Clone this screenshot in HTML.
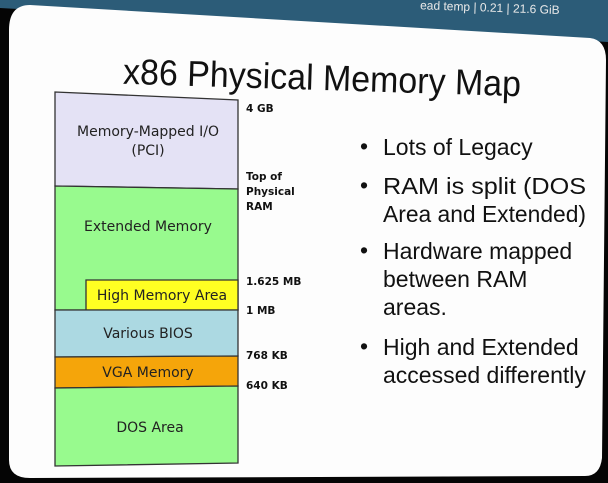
<!DOCTYPE html>
<html><head><meta charset="utf-8"><style>
html,body{margin:0;padding:0;width:608px;height:483px;overflow:hidden;background:#000}
svg{position:absolute;left:0;top:0}
text{font-family:"Liberation Sans","DejaVu Sans",sans-serif}
.d{font-family:"DejaVu Sans","Liberation Sans",sans-serif;font-size:14px;fill:#222}
.l{font-family:"DejaVu Sans","Liberation Sans",sans-serif;font-size:10.5px;font-weight:bold;fill:#111}
.b{font-size:23px;fill:#111}
</style></head><body>
<svg width="608" height="483" viewBox="0 0 608 483">
<rect width="608" height="483" fill="#050505"/>
<polygon points="0,0 608,0 608,42 0,8" fill="#2c5c78"/>
<text x="420" y="12" font-size="12" fill="#e8e8e8" font-family="DejaVu Sans Mono,monospace" transform="rotate(2 500 10)">ead temp | 0.21 | 21.6 GiB</text>
<path d="M30,5 L590,38 Q606,40 606,60 L602,458 Q600,476 585,476 L30,478 Q9,478 9,460 L9,30 Q9,5 30,5 Z" fill="#fdfdfd"/>
<text x="123" y="90" font-size="36" textLength="398" lengthAdjust="spacingAndGlyphs" fill="#111" transform="rotate(1.8 322 80)">x86 Physical Memory Map</text>
<polygon points="55,92 238,100 238,189 55,186" fill="#e4e2f5" stroke="#333" stroke-width="1.3"/>
<polygon points="55,186 238,189 238,310 55,310" fill="#98fa8e" stroke="#333" stroke-width="1.3"/>
<polygon points="86,280 238,280 238,310 86,310" fill="#ffff22" stroke="#333" stroke-width="1.3"/>
<polygon points="55,310 238,310 238,356 55,357" fill="#acd9e2" stroke="#333" stroke-width="1.3"/>
<polygon points="55,357 238,356 238,386 55,388" fill="#f5a50a" stroke="#333" stroke-width="1.3"/>
<polygon points="55,388 238,386 238,463 55,466" fill="#98fa8e" stroke="#333" stroke-width="1.3"/>
<text class="d" x="148" y="136" text-anchor="middle">Memory-Mapped I/O</text>
<text class="d" x="148" y="155" text-anchor="middle">(PCI)</text>
<text class="d" x="148" y="231" text-anchor="middle">Extended Memory</text>
<text class="d" x="162" y="300" text-anchor="middle">High Memory Area</text>
<text class="d" x="148" y="338" text-anchor="middle">Various BIOS</text>
<text class="d" x="148" y="377" text-anchor="middle">VGA Memory</text>
<text class="d" x="150" y="432" text-anchor="middle">DOS Area</text>
<text class="l" x="246" y="112">4 GB</text>
<text class="l" x="246" y="180">Top of</text>
<text class="l" x="246" y="195">Physical</text>
<text class="l" x="246" y="210">RAM</text>
<text class="l" x="246" y="285">1.625 MB</text>
<text class="l" x="246" y="314">1 MB</text>
<text class="l" x="246" y="359">768 KB</text>
<text class="l" x="246" y="389">640 KB</text>
<text class="b" x="360" y="154">•</text><text class="b" x="383" y="155">Lots of Legacy</text>
<text class="b" x="360" y="193">•</text><text class="b" x="383" y="194" textLength="203" lengthAdjust="spacingAndGlyphs">RAM is split (DOS</text>
<text class="b" x="383" y="222" textLength="203" lengthAdjust="spacingAndGlyphs">Area and Extended)</text>
<text class="b" x="360" y="258">•</text><text class="b" x="383" y="259">Hardware mapped</text>
<text class="b" x="383" y="287">between RAM</text>
<text class="b" x="383" y="315">areas.</text>
<text class="b" x="360" y="354">•</text><text class="b" x="383" y="355">High and Extended</text>
<text class="b" x="383" y="383">accessed differently</text>
</svg>
</body></html>
